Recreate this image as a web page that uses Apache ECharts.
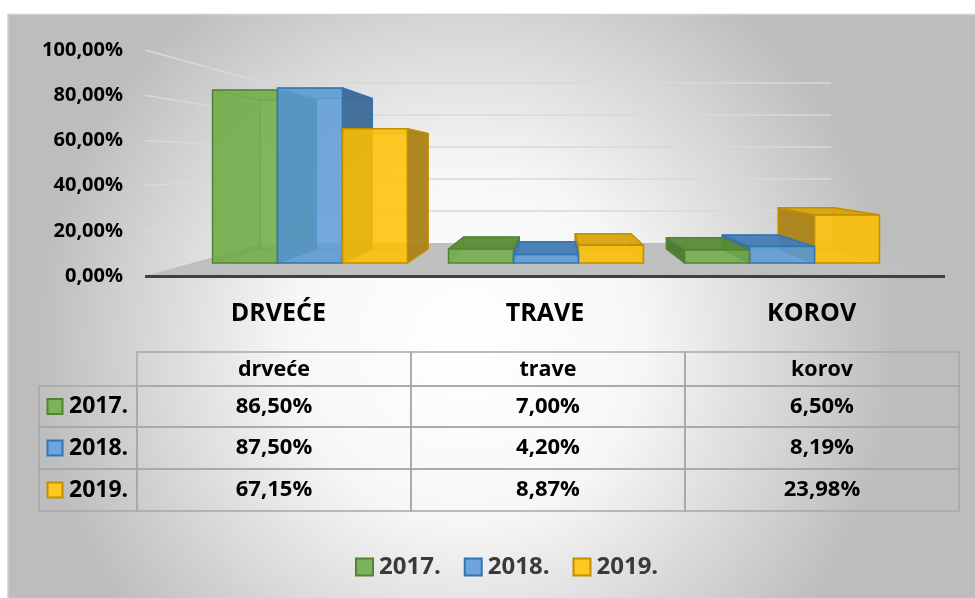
<!DOCTYPE html>
<html><head><meta charset="utf-8">
<script src="https://cdn.jsdelivr.net/npm/echarts@6/dist/echarts.min.js"></script>
<style>html,body{margin:0;padding:0;background:#fff}#c{width:975px;height:598px}</style>
</head><body><div id="c"></div>
<script>
// ---- data ----
const categories = ['DRVEĆE', 'TRAVE', 'KOROV'];
const tableHeaders = ['drveće', 'trave', 'korov'];
const years = ['2017.', '2018.', '2019.'];
const values2017 = [86.50, 7.00, 6.50];
const values2018 = [87.50, 4.20, 8.19];
const values2019 = [67.15, 8.87, 23.98];
const yTicks = [0, 20, 40, 60, 80, 100];
const seriesValues = [values2017, values2018, values2019];

// ---- style ----
const FONT = '"Open Sans", Lato, sans-serif';
const PAL = [
  {legend:'#7cb35a', edge:'#548235', front:'rgba(112,173,71,0.85)', side:'rgba(76,120,46,0.95)', top:'rgba(88,140,55,0.95)', inner:'rgba(70,110,40,0.18)', innerEdge:'rgba(84,130,53,0.55)'},
  {legend:'#6fa5da', edge:'#2e75b6', front:'rgba(91,155,213,0.85)', side:'rgba(60,105,150,0.95)', top:'rgba(70,125,180,0.95)', inner:'rgba(40,90,140,0.22)', innerEdge:'rgba(46,117,182,0.55)'},
  {legend:'#ffc820', edge:'#bf9000', front:'rgba(255,192,0,0.85)', side:'rgba(170,130,20,0.95)', top:'rgba(215,165,10,0.95)', inner:'rgba(160,120,0,0.18)', innerEdge:'rgba(200,150,0,0.55)'}
];
const VX = 555, VY = 163, DEPTH = 0.86, WALL = 0.708;
const proj = (p, s) => [VX + (p[0] - VX) * s, VY + (p[1] - VY) * s];
const fmt = v => v.toFixed(2).replace('.', ',') + '%';

function renderGrid(params, api) {
  const cs = params.coordSys;
  const v = api.value(1);
  const y = api.coord([0, v])[1];
  const xl = cs.x, xr = cs.x + cs.width;
  const a = proj([xl, y], WALL), b = proj([xr, y], WALL);
  const children = [];
  if (v === 0) {
    children.push({type:'polygon', shape:{points:[[xl, y], [xr, y], b, a]}, style:{fill:'#bfbfbf'}});
    children.push({type:'line', shape:{x1:xl, y1:y + 0.5, x2:xr, y2:y + 0.5}, style:{stroke:'#404040', lineWidth:3}});
  } else {
    children.push({type:'polyline', shape:{points:[[xl, y], a, b]}, style:{stroke:'#d9d9d9', lineWidth:1.5, fill:null}});
  }
  return {type:'group', children};
}

function makeBarRender(k) {
  const P = PAL[k];
  return function (params, api) {
    const ci = api.value(0), v = api.value(1);
    const band = api.size([1, 0])[0];
    const groupW = band * 0.826, bw = groupW / 3;
    const base = api.coord([ci, 0]);
    const yT = api.coord([ci, v])[1], yB = base[1];
    const x0 = base[0] - groupW / 2 + k * bw, x1 = x0 + bw;
    const tl = [x0, yT], tr = [x1, yT], br = [x1, yB], bl = [x0, yB];
    const Btl = proj(tl, DEPTH), Btr = proj(tr, DEPTH), Bbr = proj(br, DEPTH), Bbl = proj(bl, DEPTH);
    const z = -Math.abs((x0 + x1) / 2 - VX) * 10;
    const hidden = pts => ({type:'polygon', z2:z + 1, shape:{points:pts}, style:{fill:P.inner, stroke:P.innerEdge, lineWidth:1}});
    const shown = (pts, col) => ({type:'polygon', z2:z + 2, shape:{points:pts}, style:{fill:col, stroke:P.edge, lineWidth:1.5, lineJoin:'round'}});
    const ch = [];
    ch.push({type:'polygon', z2:z, shape:{points:[Btl, Btr, Bbr, Bbl]}, style:{fill:'rgba(0,0,0,0)', stroke:P.innerEdge, lineWidth:1}});
    const left = [tl, bl, Bbl, Btl], right = [tr, br, Bbr, Btr], topF = [tl, tr, Btr, Btl];
    ch.push(x0 > VX ? shown(left, P.side) : hidden(left));
    ch.push(x1 < VX ? shown(right, P.side) : hidden(right));
    ch.push(yT > VY ? shown(topF, P.top) : hidden(topF));
    ch.push({type:'rect', z2:z + 3, shape:{x:x0, y:yT, width:bw, height:yB - yT}, style:{fill:P.front, stroke:P.edge, lineWidth:1.5}});
    return {type:'group', children:ch};
  };
}

// ---- table (graphic) ----
const COLS = [39, 137, 411, 685, 959];
const ROWS = [352, 386, 427, 469, 511];
const TB = '#a6a6a6';
const graphics = [];
graphics.push({type:'rect', z:-10, shape:{x:8, y:14.5, width:975, height:600}, style:{
  fill:{type:'radial', x:0.47, y:0.55, r:0.72, colorStops:[{offset:0, color:'#ffffff'}, {offset:0.4, color:'#f7f7f7'}, {offset:1, color:'#bdbdbd'}]},
  stroke:'#d0d0d0', lineWidth:1.5}});
function cellText(text, x, y, size, align) {
  return {type:'text', z:12, style:{text, x, y, textAlign:align || 'center', textVerticalAlign:'middle', fontFamily:FONT, fontWeight:'bold', fontSize:size, fill:'#000'}};
}
for (let j = 0; j < 3; j++) {
  graphics.push({type:'rect', z:11, shape:{x:COLS[j + 1], y:ROWS[0], width:COLS[j + 2] - COLS[j + 1], height:ROWS[1] - ROWS[0]}, style:{fill:'rgba(0,0,0,0)', stroke:TB, lineWidth:1.5}});
  graphics.push(cellText(tableHeaders[j], (COLS[j + 1] + COLS[j + 2]) / 2, (ROWS[0] + ROWS[1]) / 2 + 1, 21.5));
}
for (let i = 0; i < 3; i++) {
  const yc = (ROWS[i + 1] + ROWS[i + 2]) / 2;
  for (let j = 0; j < 4; j++) {
    graphics.push({type:'rect', z:11, shape:{x:COLS[j], y:ROWS[i + 1], width:COLS[j + 1] - COLS[j], height:ROWS[i + 2] - ROWS[i + 1]}, style:{fill:'rgba(0,0,0,0)', stroke:TB, lineWidth:1.5}});
  }
  graphics.push({type:'rect', z:12, shape:{x:47.5, y:yc - 7.5, width:15, height:15}, style:{fill:PAL[i].legend, stroke:PAL[i].edge, lineWidth:2}});
  graphics.push(cellText(years[i], 69, yc, 23, 'left'));
  for (let j = 0; j < 3; j++) {
    graphics.push(cellText(fmt(seriesValues[i][j]), (COLS[j + 1] + COLS[j + 2]) / 2, yc, 22));
  }
}

const chart = echarts.init(document.getElementById('c'), null, {renderer:'canvas'});
const barSeries = seriesValues.map((vals, k) => ({
  name: years[k], type:'custom', xAxisIndex:1, yAxisIndex:1, z:3,
  itemStyle:{color:PAL[k].legend},
  renderItem: makeBarRender(k),
  encode:{x:0, y:1},
  data: vals.map((v, i) => [i, v])
}));
chart.setOption({
  animation:false,
  backgroundColor:'#ffffff',
  textStyle:{fontFamily:FONT},
  graphic: graphics,
  grid:[
    {left:145, width:800, top:50, height:226},
    {left:192, width:708, top:63, height:200}
  ],
  xAxis:[
    {type:'category', gridIndex:0, data:categories, axisLine:{show:false}, axisTick:{show:false},
     axisLabel:{fontFamily:FONT, fontSize:25, fontWeight:'bold', color:'#000', margin:25}},
    {type:'category', gridIndex:1, data:categories, show:false}
  ],
  yAxis:[
    {type:'value', gridIndex:0, min:0, max:100, interval:20, splitLine:{show:false}, axisLine:{show:false}, axisTick:{show:false},
     axisLabel:{formatter:fmt, fontFamily:FONT, fontSize:20, fontWeight:'bold', color:'#000', margin:22}},
    {type:'value', gridIndex:1, min:0, max:100, show:false}
  ],
  legend:{left:350, top:550, itemWidth:17, itemHeight:17, itemGap:23, icon:'rect',
    textStyle:{fontFamily:FONT, fontSize:24, fontWeight:'bold', color:'#3a3a3a', padding:[0,0,0,1]},
    data: years.map((y, k) => ({name:y, itemStyle:{color:PAL[k].legend, borderColor:PAL[k].edge, borderWidth:2}}))},
  series:[
    {type:'custom', name:'walls', xAxisIndex:0, yAxisIndex:0, z:1, renderItem:renderGrid, encode:{x:0, y:1},
     data: yTicks.map(v => [0, v]), silent:true}
  ].concat(barSeries)
});
</script></body></html>
